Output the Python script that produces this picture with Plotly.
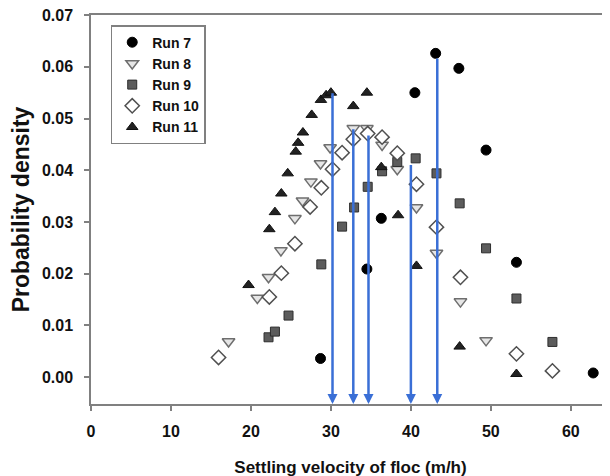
import plotly.graph_objects as go

# ---- data ----
run7_x = [28.7, 34.5, 36.3, 40.5, 43.1, 46.0, 49.4, 53.2, 62.8]
run7_y = [0.0036, 0.0209, 0.0307, 0.0550, 0.0626, 0.0597, 0.0439, 0.0222, 0.0008]

run8_x = [17.2, 20.8, 22.2, 23.75, 25.5, 26.45, 27.5, 28.7, 29.9, 32.8, 34.5, 36.4, 38.3, 40.7, 43.2, 46.2, 49.4]
run8_y = [0.0069, 0.0153, 0.0193, 0.0245, 0.0307, 0.0341, 0.0378, 0.0413, 0.0444, 0.0481, 0.0481, 0.0449,
          0.0402, 0.0328, 0.0240, 0.0146, 0.0071]

run9_x = [22.2, 23.0, 24.7, 28.8, 31.4, 32.9, 34.6, 36.4, 38.3, 40.6, 43.2, 46.1, 49.4, 53.2, 57.7]
run9_y = [0.0077, 0.0088, 0.0119, 0.0218, 0.0291, 0.0328, 0.0368, 0.0398, 0.0416, 0.0423, 0.0394, 0.0336,
          0.0249, 0.0152, 0.0068]

run10_x = [15.95, 22.3, 23.8, 25.5, 27.4, 28.8, 30.2, 31.4, 32.8, 34.6, 36.4, 38.3, 40.7, 43.2, 46.2, 53.2, 57.7]
run10_y = [0.0038, 0.0155, 0.0201, 0.0258, 0.0329, 0.0366, 0.0402, 0.0434, 0.0460, 0.0471, 0.0464, 0.0433,
           0.0373, 0.0290, 0.0193, 0.0045, 0.0012]

run11_x = [19.7, 22.3, 23.0, 23.8, 24.6, 25.6, 25.9, 26.5, 27.6, 28.75, 29.4, 30.0, 32.8, 34.5, 36.3, 38.4,
           40.7, 46.1, 53.2]
run11_y = [0.0178, 0.0286, 0.0319, 0.0355, 0.0394, 0.0436, 0.0453, 0.0473, 0.0507, 0.0536, 0.0545, 0.0550,
           0.0524, 0.0550, 0.0406, 0.0313, 0.0215, 0.0059, 0.0006]

arrow_x = [30.2, 32.8, 34.7, 40.0, 43.3]
arrow_top = [0.0552, 0.0482, 0.0470, 0.0413, 0.0619]

x_ticks = [0, 10, 20, 30, 40, 50, 60]
y_ticks = [0.00, 0.01, 0.02, 0.03, 0.04, 0.05, 0.06, 0.07]

FONT = "Liberation Sans, Arial, sans-serif"

fig = go.Figure()

series = [
    ("Run 7", run7_x, run7_y, dict(symbol="circle", size=10, color="#000000",
                                   line=dict(color="#000000", width=1))),
    ("Run 8", run8_x, run8_y, dict(symbol="triangle-down", size=11, color="#e6e6e6",
                                   line=dict(color="#6e6e6e", width=1.5))),
    ("Run 9", run9_x, run9_y, dict(symbol="square", size=9, color="#5c5c5c",
                                   line=dict(color="#2e2e2e", width=1))),
    ("Run 10", run10_x, run10_y, dict(symbol="diamond", size=11, color="#ffffff",
                                      line=dict(color="#505050", width=1.5))),
    ("Run 11", run11_x, run11_y, dict(symbol="triangle-up", size=10, color="#222222",
                                      line=dict(color="#111111", width=1))),
]
for name, xs, ys, mk in series:
    fig.add_trace(go.Scatter(x=xs, y=ys, mode="markers", name=name, marker=mk))

for xa, ya in zip(arrow_x, arrow_top):
    fig.add_annotation(x=xa, y=-0.0052, ax=xa, ay=ya, xref="x", yref="y", axref="x", ayref="y",
                       text="", showarrow=True, arrowhead=2, arrowsize=0.8, arrowwidth=2.5,
                       arrowcolor="#3a6fd6", standoff=0)

axis_common = dict(showline=True, linecolor="#808080", linewidth=1.5, ticks="outside",
                   tickcolor="#808080", tickwidth=1.5, ticklen=5, showgrid=False, zeroline=False,
                   automargin=False, ticklabeloverflow="allow",
                   tickfont=dict(family=FONT, size=16, color="#111111", weight="bold"))

fig.update_xaxes(range=[0, 64.9], tickvals=x_ticks, mirror=True, ticklabelstandoff=7,
                 title=dict(text="Settling velocity of floc (m/h)", standoff=22,
                            font=dict(family=FONT, size=17, color="#111111", weight="bold")),
                 **axis_common)
fig.update_yaxes(range=[-0.0052, 0.07002], tickvals=y_ticks, tickformat=".2f", ticklabelstandoff=8,
                 title=dict(text="Probability density", standoff=10,
                            font=dict(family=FONT, size=23, color="#111111", weight="bold")),
                 **axis_common)

# the page body adds an 8 px offset, so margins are set 8 px smaller on the left/top
fig.update_layout(
    width=610, height=476,
    margin=dict(l=83, r=8, t=7, b=80),
    paper_bgcolor="white", plot_bgcolor="white",
    legend=dict(x=0.038, y=0.974, xanchor="left", yanchor="top",
                bordercolor="#808080", borderwidth=1.5, bgcolor="white",
                font=dict(family=FONT, size=14, color="#111111", weight="bold"),
                tracegroupgap=0),
    showlegend=True,
)

fig.write_html("out.html")
